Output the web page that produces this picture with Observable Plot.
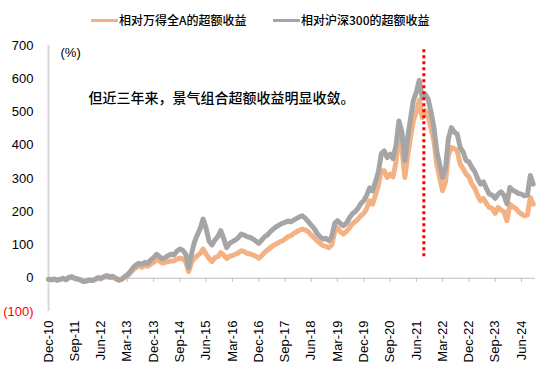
<!DOCTYPE html>
<html><head><meta charset="utf-8">
<script src="https://cdn.jsdelivr.net/npm/d3@7"></script>
<script src="https://cdn.jsdelivr.net/npm/@observablehq/plot@0.6"></script>
<style>
body{margin:0;background:#fff;font-family:"Liberation Sans",Arial,sans-serif;}
#legend{position:relative;height:35px;font-family:"Noto Sans CJK SC",sans-serif;font-size:12px;font-weight:500;color:#000;}
.item{position:absolute;top:12px;display:flex;align-items:center;white-space:nowrap;line-height:16px}
.sw{width:27px;height:3px;margin-right:1px}
</style></head><body>
<div id="legend"></div>
<div id="chart"></div>
<script>
// ---- data ----
const months = ["2010-12","2011-01","2011-02","2011-03","2011-04","2011-05","2011-06","2011-07","2011-08","2011-09","2011-10","2011-11","2011-12",
"2012-01","2012-02","2012-03","2012-04","2012-05","2012-06","2012-07","2012-08","2012-09","2012-10","2012-11","2012-12",
"2013-01","2013-02","2013-03","2013-04","2013-05","2013-06","2013-07","2013-08","2013-09","2013-10","2013-11","2013-12",
"2014-01","2014-02","2014-03","2014-04","2014-05","2014-06","2014-07","2014-08","2014-09","2014-10","2014-11","2014-12",
"2015-01","2015-02","2015-03","2015-04","2015-05","2015-06","2015-07","2015-08","2015-09","2015-10","2015-11","2015-12",
"2016-01","2016-02","2016-03","2016-04","2016-05","2016-06","2016-07","2016-08","2016-09","2016-10","2016-11","2016-12",
"2017-01","2017-02","2017-03","2017-04","2017-05","2017-06","2017-07","2017-08","2017-09","2017-10","2017-11","2017-12",
"2018-01","2018-02","2018-03","2018-04","2018-05","2018-06","2018-07","2018-08","2018-09","2018-10","2018-11","2018-12",
"2019-01","2019-02","2019-03","2019-04","2019-05","2019-06","2019-07","2019-08","2019-09","2019-10","2019-11","2019-12",
"2020-01","2020-02","2020-03","2020-04","2020-05","2020-06","2020-07","2020-08","2020-09","2020-10","2020-11","2020-12",
"2021-01","2021-02","2021-03","2021-04","2021-05","2021-06","2021-07","2021-08","2021-09","2021-10","2021-11","2021-12",
"2022-01","2022-02","2022-03","2022-04","2022-05","2022-06","2022-07","2022-08","2022-09","2022-10","2022-11","2022-12",
"2023-01","2023-02","2023-03","2023-04","2023-05","2023-06","2023-07","2023-08","2023-09","2023-10","2023-11","2023-12",
"2024-01","2024-02","2024-03","2024-04","2024-05","2024-06","2024-07","2024-08","2024-09","2024-10"];

// 相对沪深300的超额收益 (%)
const vsCSI300 = [-3,-5,-2,-6,-3,0,-4,3,5,0,-2,-5,-10,
-8,-5,-7,-3,2,0,5,8,4,6,0,-5,
-3,5,10,20,32,40,45,42,48,45,55,62,
72,65,58,62,68,72,70,82,88,84,72,32,
75,110,130,150,178,150,112,100,115,125,143,120,
92,105,110,115,122,133,130,125,123,118,112,105,
115,125,130,140,148,155,160,165,168,172,170,175,
180,185,188,180,170,160,150,135,125,118,120,113,
125,165,173,165,158,165,180,193,200,210,225,233,
250,272,263,290,320,375,383,363,373,360,400,473,
440,354,420,480,535,560,595,543,554,540,500,453,
380,340,303,330,420,453,440,433,393,380,354,350,
333,320,300,283,290,270,253,250,240,253,260,250,
224,273,265,260,255,253,248,250,309,283];

// 相对万得全A的超额收益 (%)
const vsWindA = [-3,-5,-3,-6,-4,-2,-5,1,3,-1,-3,-6,-10,
-9,-6,-7,-4,0,-1,3,5,2,3,-2,-6,
-4,3,7,15,26,32,37,33,38,36,42,48,
56,52,46,48,50,52,52,58,60,58,50,20,
48,60,68,75,88,72,60,50,62,65,77,70,
60,66,68,72,76,83,80,75,73,70,66,60,
68,78,85,92,98,103,108,112,118,125,128,135,
140,145,148,145,140,130,122,113,105,98,96,92,
100,140,152,140,133,140,150,163,170,178,188,195,
210,233,223,250,280,323,323,303,313,305,350,423,
390,303,365,425,474,500,535,483,504,490,450,413,
340,300,263,290,370,393,390,383,343,330,313,305,
283,270,250,233,240,225,213,210,195,213,205,200,
173,223,215,210,200,193,188,190,243,223];

const tickLabels = ["Dec-10","Sep-11","Jun-12","Mar-13","Dec-13","Sep-14","Jun-15","Mar-16","Dec-16","Sep-17","Jun-18","Mar-19","Dec-19","Sep-20","Jun-21","Mar-22","Dec-22","Sep-23","Jun-24"];
const yTicks = [-100,0,100,200,300,400,500,600,700];
const seriesNames = ["相对万得全A的超额收益","相对沪深300的超额收益"];
const seriesColors = ["#F4B183","#A5A5A5"];
const markerLine = [{date:"2021-08-18", from:65, to:688}];
const note = "但近三年来，景气组合超额收益明显收敛。";

// ---- build ----
const parseM = d3.utcParse("%Y-%m");
const data = months.map((m,i)=>({date:parseM(m), windA:vsWindA[i], csi300:vsCSI300[i]}));
const tickDates = tickLabels.map(d3.utcParse("%b-%y"));
const vline = markerLine.map(d=>({date:new Date(d.date), from:d.from, to:d.to}));

// legend
const lg = document.getElementById("legend");
const lefts = [91, 273];
seriesNames.forEach((n,i)=>{
  const it = document.createElement("div"); it.className="item"; it.style.left=lefts[i]+"px";
  it.innerHTML = `<span class="sw" style="background:${seriesColors[i]}"></span><span>${n}</span>`;
  lg.appendChild(it);
});

const chart = Plot.plot({
  width:550, height:338,
  marginLeft:48, marginRight:15, marginTop:10, marginBottom:62,
  style:{fontFamily:"'Liberation Sans', Arial, sans-serif", fontSize:"13px", color:"#000", background:"#fff", overflow:"visible"},
  x:{type:"utc", domain:[parseM("2010-12"), new Date("2024-10-25")], axis:null},
  y:{domain:[-100,700], axis:null},
  marks:[
    Plot.ruleY([0], {stroke:"#BFBFBF", strokeWidth:1}),
    Plot.ruleX(tickDates.slice(1), {x:d=>d, y1:0, y2:0, insetBottom:-4, stroke:"#BFBFBF"}),
    Plot.ruleX([parseM("2010-12")], {stroke:"#D9D9D9", strokeWidth:2}),
    Plot.lineY(data, {x:"date", y:"windA", stroke:seriesColors[0], strokeWidth:5, strokeLinejoin:"round"}),
    Plot.lineY(data, {x:"date", y:"csi300", stroke:seriesColors[1], strokeWidth:5, strokeLinejoin:"round"}),
    Plot.ruleX(vline, {x:"date", y1:"from", y2:"to", stroke:"#FF0000", strokeWidth:3, strokeDasharray:"3,3"}),
    Plot.text(yTicks, {y:d=>d, frameAnchor:"left", dx:-15, textAnchor:"end", text:d=>d<0?`(${-d})`:String(d), fill:d=>d<0?"#FF0000":"#000", fontSize:13}),
    Plot.text(tickDates, {x:d=>d, frameAnchor:"bottom", rotate:-90, textAnchor:"end", lineAnchor:"middle", dy:9, text:(d,i)=>tickLabels[i], fontSize:13}),
    Plot.text(["(%)"], {frameAnchor:"top-left", dx:12, dy:7, lineAnchor:"middle", textAnchor:"start", text:d=>d, fontSize:13}),
    Plot.text([note], {frameAnchor:"top-left", dx:40, dy:53, lineAnchor:"middle", textAnchor:"start", text:d=>d, fontSize:14, fontWeight:500, fontFamily:"'Noto Sans CJK SC', sans-serif", fill:"#000"})
  ]
});
document.getElementById("chart").appendChild(chart);
</script>
</body></html>
